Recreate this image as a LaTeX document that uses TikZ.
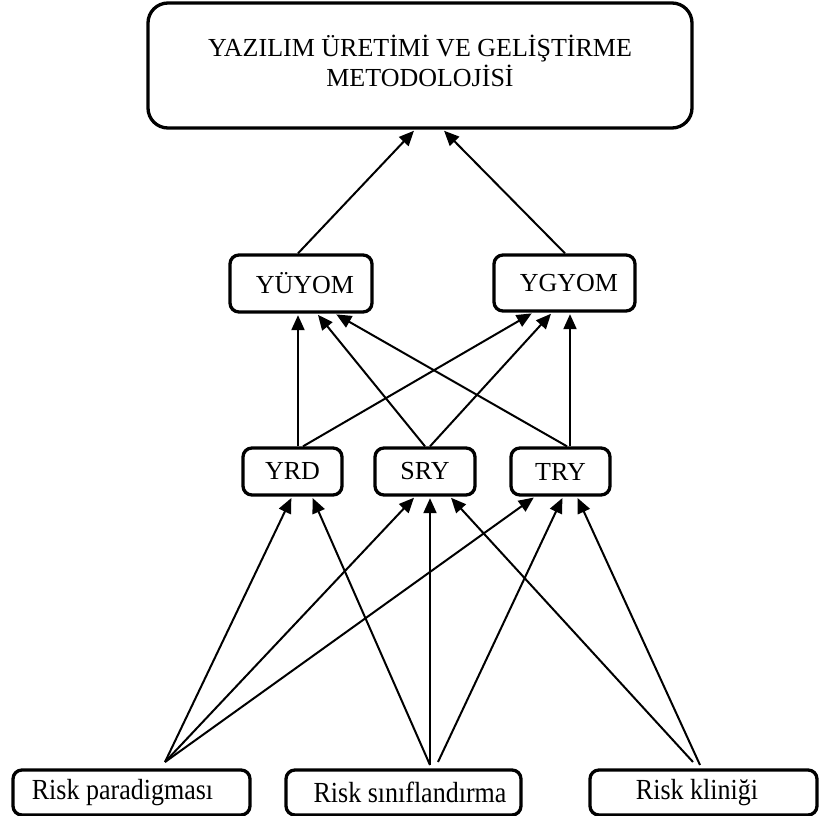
\documentclass[tikz,border=0pt]{standalone}
\usepackage{fontspec}
\setmainfont{Liberation Serif}
\usetikzlibrary{arrows.meta}
% shift a label sideways inside its box by #1
\newcommand{\nudge}[2]{\hspace*{#1}\hspace*{#1}#2}
\begin{document}
\begin{tikzpicture}[x=1pt,y=-1pt,
  box/.style={draw=black, line width=3.3pt, rounded corners=9pt, inner sep=0pt,
    font=\fontsize{26}{29}\selectfont},
  arr/.style={line width=2pt, -{Triangle[length=15pt,width=13pt]}, shorten >=1.5pt},
]
\useasboundingbox (0,0) rectangle (819,816);

% top level
\node[box, rounded corners=20pt, minimum width=544pt, minimum height=125pt] (meth) at (420,65.5)
  {\raisebox{5pt}{\begin{tabular}{@{}c@{}}YAZILIM ÜRETİMİ VE GELİŞTİRME\\METODOLOJİSİ\end{tabular}}};

% second level
\node[box, minimum width=142pt, minimum height=57pt] (yuyom) at (301,283.5) {\nudge{4pt}{YÜYOM}};
\node[box, minimum width=141pt, minimum height=56pt] (ygyom) at (564.5,283) {\nudge{4.5pt}{YGYOM}};

% third level
\node[box, minimum width=99pt, minimum height=47pt] (yrd) at (292.5,471.5) {YRD};
\node[box, minimum width=100pt, minimum height=47pt] (sry) at (425,471.5) {SRY};
\node[box, minimum width=99pt, minimum height=47pt] (try) at (560.5,471.5) {TRY};

% bottom level
\node[box, minimum width=237pt, minimum height=45pt] (rp) at (131.5,792.5)
  {\nudge{-9pt}{\scalebox{1}[1.12]{Risk paradigması}}};
\node[box, minimum width=235pt, minimum height=45pt] (rs) at (403.5,792.5)
  {\nudge{6.5pt}{\scalebox{1}[1.12]{Risk sınıflandırma}}};
\node[box, minimum width=227pt, minimum height=45pt] (rk) at (703.5,792.5)
  {\nudge{-6.5pt}{\scalebox{1}[1.12]{Risk kliniği}}};

% free starting points of the lower connectors
\coordinate (rpA) at (165,762);
\coordinate (rsA) at (430,765);
\coordinate (rsB) at (438,762);
\coordinate (rkA) at (693,762);
\coordinate (rkB) at (700,765);

% bottom level -> third level
\draw[arr] (rpA) -- ([xshift=-0.5pt]yrd.south);
\draw[arr] (rpA) -- ([xshift=-10pt]sry.south);
\draw[arr] (rpA) -- ([xshift=-25.5pt]try.south);
\draw[arr] (rsA) -- ([xshift=19.5pt]yrd.south);
\draw[arr] (rsA) -- ([xshift=5pt]sry.south);
\draw[arr] (rsB) -- ([xshift=2.5pt]try.south);
\draw[arr] (rkA) -- ([xshift=25pt]sry.south);
\draw[arr] (rkB) -- ([xshift=16.5pt]try.south);

% third level -> second level
\draw[arr] ([xshift=5.5pt]yrd.north) -- ([xshift=-3pt]yuyom.south);
\draw[arr] ([xshift=10.5pt]yrd.north) -- ([xshift=-31.5pt]ygyom.south);
\draw[arr] (sry.north) -- ([xshift=16pt]yuyom.south);
\draw[arr] ([xshift=5pt]sry.north) -- ([xshift=-12.5pt]ygyom.south);
\draw[arr] ([xshift=6.5pt]try.north) -- ([xshift=34pt]yuyom.south);
\draw[arr] ([xshift=9.5pt]try.north) -- ([xshift=5.5pt]ygyom.south);

% second level -> top level
\draw[arr] ([xshift=-3pt]yuyom.north) -- ([xshift=-5pt]meth.south);
\draw[arr] ([xshift=0.5pt]ygyom.north) -- ([xshift=23pt]meth.south);
\end{tikzpicture}
\end{document}
